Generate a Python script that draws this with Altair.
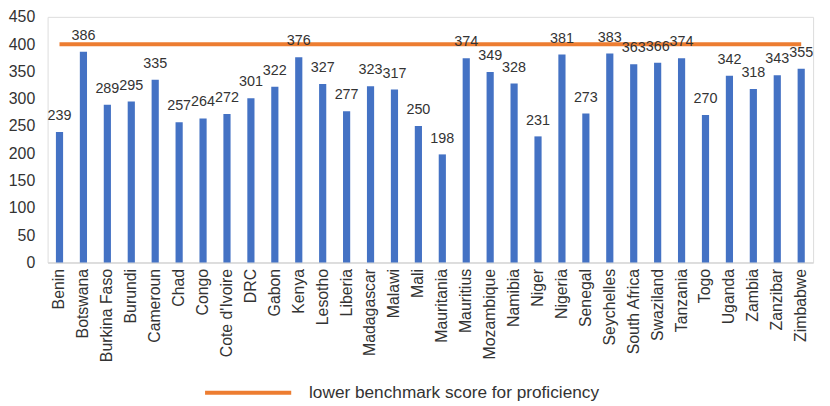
import altair as alt
import pandas as pd

countries = ["Benin", "Botswana", "Burkina Faso", "Burundi", "Cameroun", "Chad", "Congo",
             "Cote d'Ivoire", "DRC", "Gabon", "Kenya", "Lesotho", "Liberia", "Madagascar",
             "Malawi", "Mali", "Mauritania", "Mauritius", "Mozambique", "Namibia", "Niger",
             "Nigeria", "Senegal", "Seychelles", "South Africa", "Swaziland", "Tanzania",
             "Togo", "Uganda", "Zambia", "Zanzibar", "Zimbabwe"]
scores = [239, 386, 289, 295, 335, 257, 264, 272, 301, 322, 376, 327, 277, 323, 317, 250,
          198, 374, 349, 328, 231, 381, 273, 383, 363, 366, 374, 270, 342, 318, 343, 355]
benchmark_name = "lower benchmark score for proficiency"
benchmark_value = 400
y_ticks = [0, 50, 100, 150, 200, 250, 300, 350, 400, 450]

df = pd.DataFrame({"country": countries, "score": scores,
                   "bench": [benchmark_value] * len(countries),
                   "series": [benchmark_name] * len(countries)})

FONT = "Liberation Sans"
TXT = "#333333"

xscale = alt.Scale(domain=countries, paddingInner=0.70, paddingOuter=0.347)
yscale = alt.Scale(domain=[0, 450], nice=False)

x_axis = alt.Axis(labelAngle=-90, labelFontSize=16, labelFont=FONT, labelColor=TXT,
                  ticks=False, domainColor="#d9d9d9", domainWidth=1.5,
                  labelPadding=6, labelLimit=200, labelOverlap=False)
y_axis = alt.Axis(values=y_ticks, labelFontSize=16, labelFont=FONT, labelColor=TXT,
                  ticks=False, domain=False, grid=False, labelPadding=13,
                  labelOverlap=False)


def xe():
    return alt.X("country:N", sort=countries, scale=xscale, title=None, axis=x_axis)


def ye(field):
    return alt.Y(f"{field}:Q", scale=yscale, title=None, axis=y_axis)


base = alt.Chart(df)

bars = base.mark_bar(color="#4472C4").encode(x=xe(), y=ye("score"))

labels = base.mark_text(baseline="alphabetic", dy=-12, fontSize=14.5,
                        font=FONT, color=TXT).encode(x=xe(), y=ye("score"), text="score:Q")

line = base.mark_line(strokeWidth=4).encode(
    x=xe(), y=ye("bench"),
    color=alt.Color("series:N", scale=alt.Scale(range=["#ED7D31"]),
                    legend=alt.Legend(title=None, orient="none", legendX=157, legendY=334,
                                      symbolType="stroke", symbolSize=7569,
                                      symbolStrokeWidth=4, labelFontSize=17.4,
                                      labelFont=FONT, labelColor=TXT, labelOffset=16,
                                      labelLimit=500, padding=0)))

chart = alt.layer(bars, line, labels).properties(
    width=773, height=248,
    autosize=alt.AutoSizeParams(type="none"),
    padding={"left": 40, "top": 7, "right": 9, "bottom": 143},
).configure_view(stroke=None).configure(background="white")

chart.save("out.html", embed_options={"renderer": "svg", "actions": False})
